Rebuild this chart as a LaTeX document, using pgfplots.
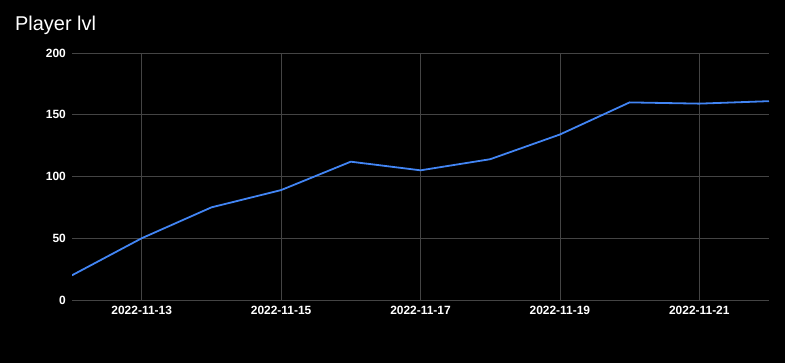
\documentclass[border=0pt]{standalone}
\usepackage{pgfplots}
\pgfplotsset{compat=1.18}
\usepackage{fontspec}
\setmainfont{Liberation Sans}
\definecolor{gridc}{HTML}{444444}
\definecolor{basec}{HTML}{CCCCCC}
\definecolor{lineblue}{HTML}{4285F4}
\pgfplotstableread{
day lvl
12 20
13 50
14 75
15 89
16 112
17 105
18 114
19 134
20 160
21 159
22 161
}\lvldata
\begin{document}
\begin{tikzpicture}
\fill[black] (0,0) rectangle (785bp,363bp);
\useasboundingbox (0,0) rectangle (785bp,363bp);
\node[anchor=base west, text=white, font=\fontsize{20}{24}\selectfont, inner sep=0pt] at (15bp,332bp) {Player lvl};
\begin{axis}[
  at={(72bp,63bp)}, anchor=south west,
  scale only axis, width=697bp, height=247bp,
  xmin=12, xmax=22, ymin=0, ymax=200,
  xtick={13,15,17,19,21},
  xticklabels={2022-11-13,2022-11-15,2022-11-17,2022-11-19,2022-11-21},
  ytick={50,100,150,200},
  extra y ticks={0},
  extra y tick style={grid style={basec, line width=1bp}},
  grid=major,
  major grid style={gridc, line width=0.8bp},
  axis line style={draw=none},
  major tick length=0pt,
  tick label style={text=white, font=\fontsize{12}{14}\selectfont\bfseries},
  yticklabel style={inner sep=0pt, xshift=-6bp},
  xticklabel style={inner sep=0pt, yshift=-6bp},
  /pgf/number format/assume math mode=true,
]
\addplot[lineblue, line width=1.8bp, mark=none] table[x=day, y=lvl] {\lvldata};
\end{axis}
\end{tikzpicture}
\end{document}
